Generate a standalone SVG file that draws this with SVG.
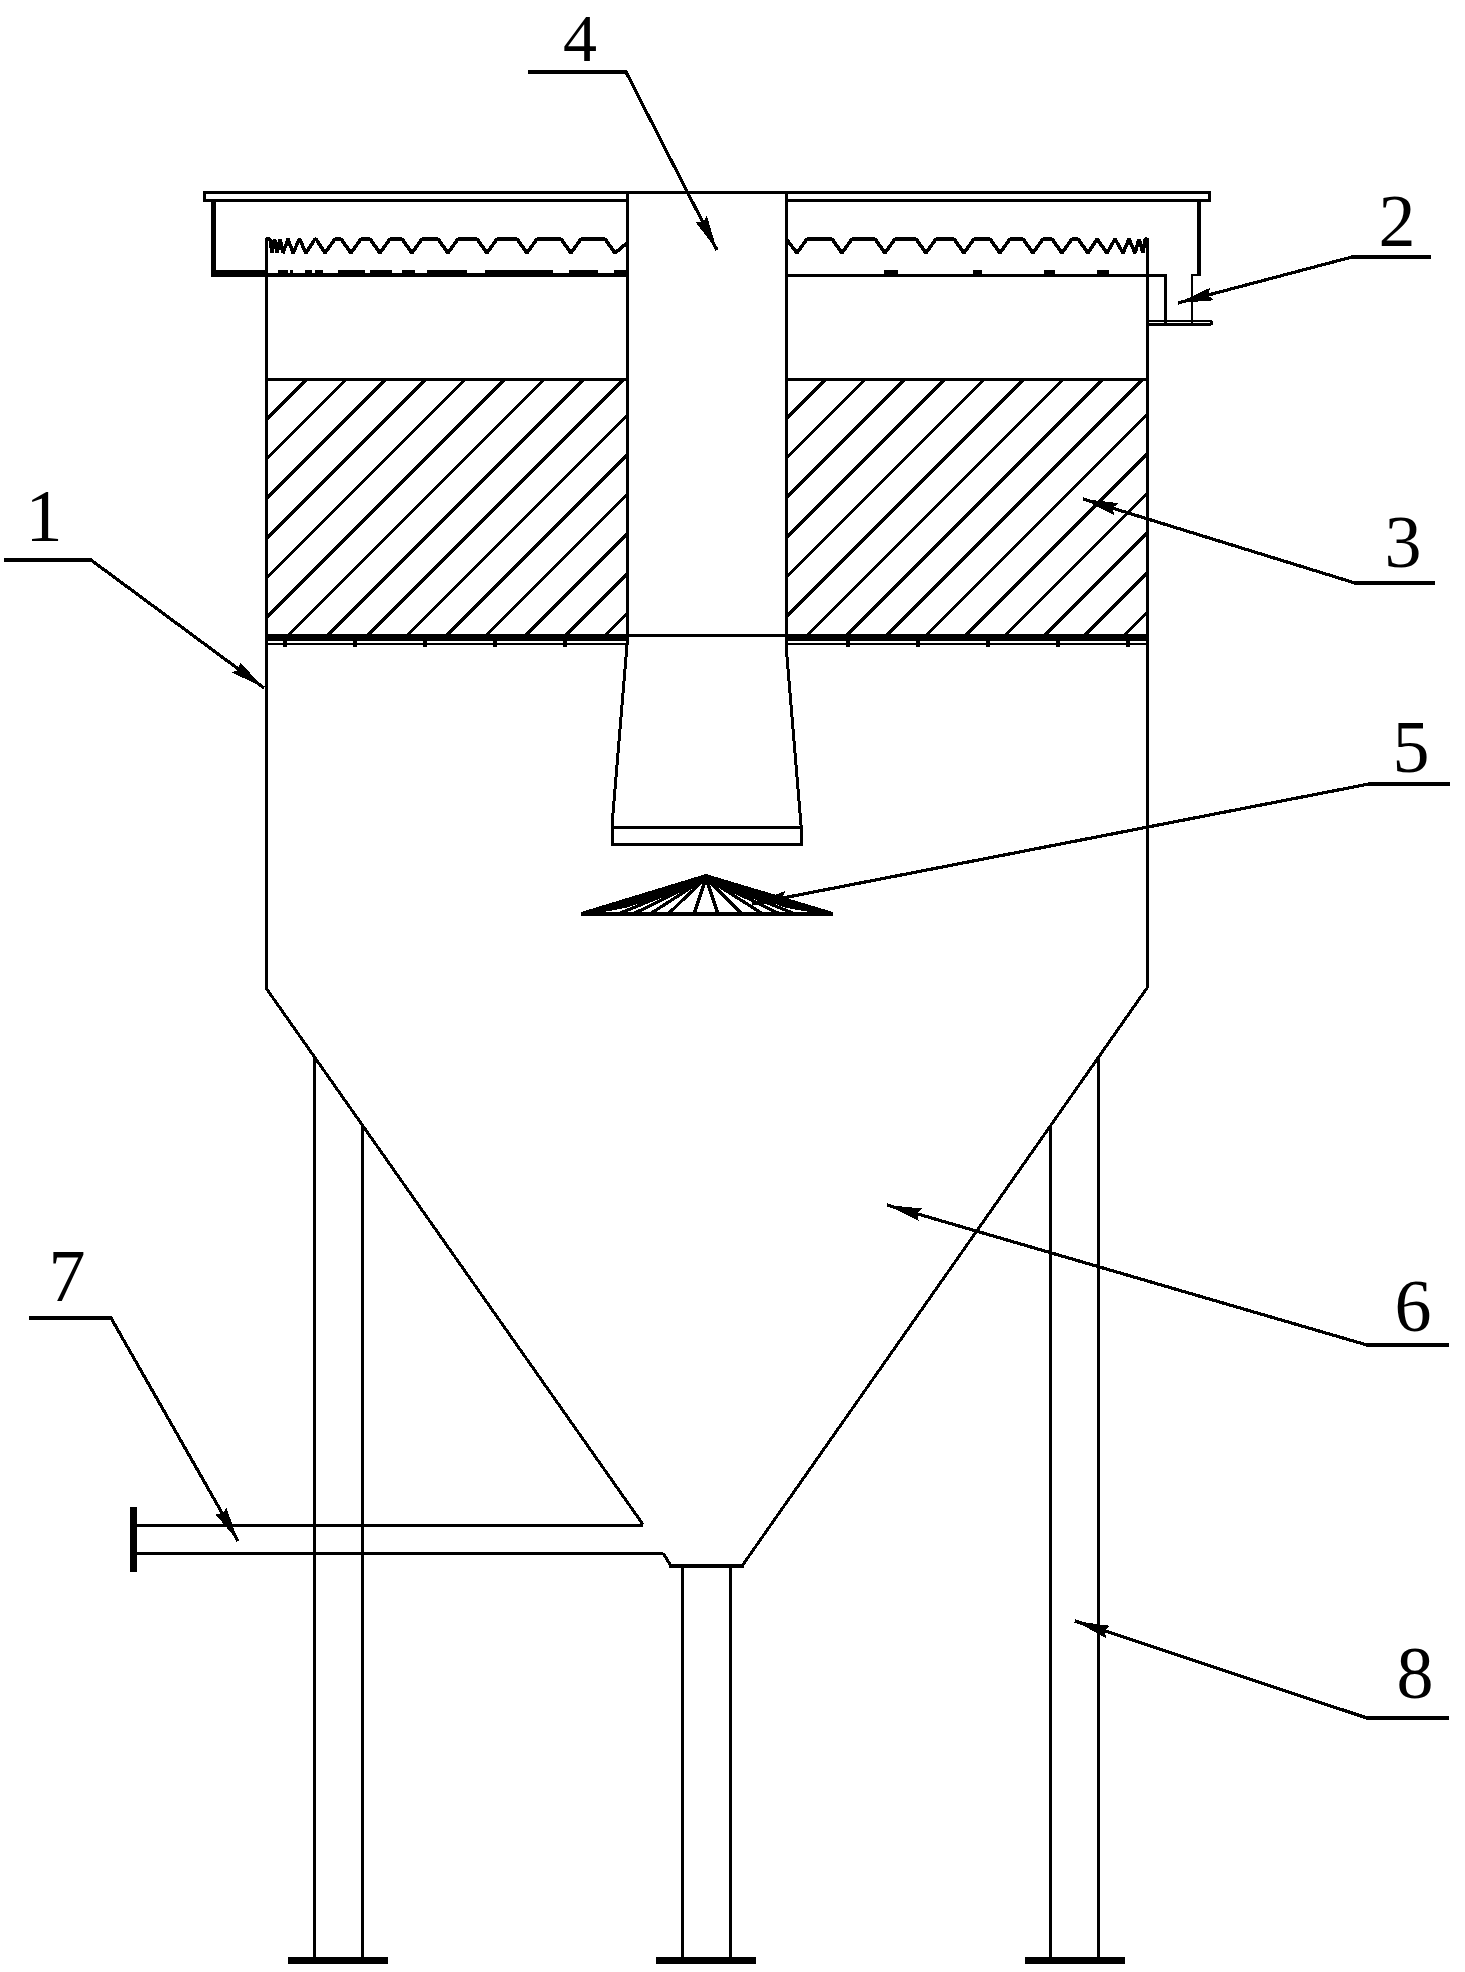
<svg xmlns="http://www.w3.org/2000/svg" width="1465" height="1972" viewBox="0 0 1465 1972">
<style>
path{shape-rendering:crispEdges}
.l{fill:none;stroke:#000;stroke-width:3;stroke-linejoin:miter}
.m{fill:none;stroke:#000;stroke-width:2.6}
.k{fill:none;stroke:#000;stroke-width:3.500;stroke-linejoin:bevel}
.f{fill:#000;stroke:none}
.h{fill:none;stroke:#000;stroke-width:3.200}
.t{font-family:"Liberation Serif",serif;font-size:74px;fill:#000;text-anchor:middle}
.c{fill:none;stroke:#000;stroke-width:3.200;marker-end:url(#a)}
</style>
<defs>
<marker id="a" markerUnits="userSpaceOnUse" markerWidth="38" markerHeight="16" viewBox="0 -8 38 16" refX="35" refY="0" orient="auto" overflow="visible">
<path d="M0,-6.500L35,0L0,6.500L4,0Z" fill="#000"/>
</marker>
</defs>
<rect width="1465" height="1972" fill="#fff"/>
<g id="cover-plate">
<path class="l" d="M786,200H1209V192H204V200H627"/>
<path class="f" d="M211,200h5v70h-5zM1197,200h4v76h-4z"/>
<path class="f" d="M211,270h55v7h-55z"/>
<path class="m" d="M1190.700,275H1201M1192,275V323"/>
</g>
<g id="weir-left">
<path class="k" d="M266,239L270,239L272,253L274.500,239L277,253L280,239L283,253L288,239L293,253L299.500,239L306,253L315,239L316,239L325,253L335,239L341,239L351,253L361,239L370,239L380,253L390,239L402,239L412,253L422,239L438,239L448,253L458,239L477,239L487,253L497,239L517,239L527,253L537,239L561,239L571,253L581,239L605,239L615,253L627,243"/>
<path class="l" d="M266,274.500H627" style="stroke-width:4"/>
<path class="f" d="M278,270h10v3h-10zM290,270h3v3h-3zM305,270h7v3h-7zM315,270h8v3h-8zM338,270h27v3h-27zM370,270h22v3h-22zM402,270h13v3h-13zM427,270h40v3h-40zM485,270h68v3h-68zM569,270h29v3h-29zM614,270h13v3h-13z"/>
</g>
<g id="weir-right">
<path class="k" d="M787,240L797,253L807,239L832,239L842,253L852,239L875,239L885,253L895,239L916,239L926,253L936,239L954,239L964,253L974,239L990,239L1000,253L1010,239L1023,239L1033,253L1043,239L1052,239L1062,253L1072,239L1078,239L1088,253L1097,239L1107,253L1115,239L1123,253L1129,239L1135,253L1139,239L1143,253L1145,239L1147,239"/>
<path class="l" d="M786,275H1165V323"/>
<path class="f" d="M884,270h14v4h-14zM973,270h9v4h-9zM1044,270h11v4h-11zM1097,270h12v4h-12z"/>
<path class="m" d="M1147,321H1210A1.500,1.500 0 0 1 1210,324.500H1147"/>
</g>
<g id="vessel">
<path class="l" d="M266,238V988L643,1524.500M1147,238V988L742,1566"/>
<path class="l" d="M663,1553L671,1566"/>
<path class="l" d="M669,1566H744" style="stroke-width:4"/>
</g>
<g id="packing">
<path class="l" d="M266,379H627M786,379H1147"/>
<path class="h" d="M307,379L266,420M346.600,379L266,459.600M386.200,379L266,499.200M425.800,379L266,538.800M465.400,379L266,578.400M505,379L266,618M544.600,379L288.600,635M584.200,379L328.200,635M623.800,379L367.800,635M627,415.400L407.400,635M627,455L447,635M627,494.600L486.600,635M627,534.200L526.200,635M627,573.800L565.800,635M627,613.400L605.400,635"/>
<path class="h" d="M826,379L786,419M865.600,379L786,458.600M905.200,379L786,498.200M944.800,379L786,537.800M984.400,379L786,577.400M1024,379L786,617M1063.600,379L807.600,635M1103.200,379L847.200,635M1142.800,379L886.800,635M1147,414.400L926.400,635M1147,454L966,635M1147,493.600L1005.600,635M1147,533.200L1045.200,635M1147,572.800L1084.800,635M1147,612.400L1124.400,635"/>
</g>
<g id="support-grid">
<path class="f" d="M266,634h361v7h-361zM786,634h361v7h-361z"/>
<path class="m" d="M266,644H627M786,644H1147"/>
<path class="f" d="M283,640h4v7h-4zM353,640h4v7h-4zM423,640h4v7h-4zM493,640h4v7h-4zM563,640h4v7h-4zM846,640h4v7h-4zM916,640h4v7h-4zM986,640h4v7h-4zM1056,640h4v7h-4zM1126,640h4v7h-4z"/>
</g>
<g id="center-pipe">
<path class="l" d="M627,192V645L612,825V844H801V825L786,645V192M627,635H786M611,827H802"/>
</g>
<g id="deflector-cone">
<path class="f" d="M706,874L581,912L582,916L625,908L706,881L787,908L832,916L833,912Z"/>
<path class="h" d="M581,914H833"/>
<path class="h" d="M706,878L618,914M706,878L633,914M706,878L650,914M706,878L668,914M706,878L694,914M706,878L718,914M706,878L742,914M706,878L763,914M706,878L780,914M706,878L795,914"/>
</g>
<g id="outlet-pipe">
<path class="l" d="M137,1525H643M137,1553H663"/>
<path class="f" d="M130,1507h7v65h-7z"/>
</g>
<g id="legs">
<path class="l" d="M314,1056V1958M362,1125V1958M682,1566V1958M730,1566V1958M1050,1126V1958M1098,1058V1958"/>
<path class="f" d="M288,1957h100v7h-100zM656,1957h100v7h-100zM1025,1957h100v7h-100z"/>
</g>
<g id="connectors">
<path class="c" d="M4,560H91L264,688"/>
<path class="c" d="M1431,257H1352L1178,303"/>
<path class="c" d="M1435,583H1355L1083,499"/>
<path class="c" d="M528,72H626L717,250"/>
<path class="c" d="M1450,784H1369L752,904"/>
<path class="c" d="M1449,1345H1367L887,1205"/>
<path class="c" d="M29,1318H111L238,1541"/>
<path class="c" d="M1449,1718H1367L1075,1621"/>
</g>
<g id="label-1"><text class="t" x="44" y="541">1</text></g>
<g id="label-2"><text class="t" x="1397" y="246">2</text></g>
<g id="label-3"><text class="t" x="1403" y="567">3</text></g>
<g id="label-4"><text class="t" x="580" y="61" style="font-size:68px">4</text></g>
<g id="label-5"><text class="t" x="1411" y="772">5</text></g>
<g id="label-6"><text class="t" x="1413" y="1331">6</text></g>
<g id="label-7"><text class="t" x="67" y="1301">7</text></g>
<g id="label-8"><text class="t" x="1415" y="1698">8</text></g>
</svg>
